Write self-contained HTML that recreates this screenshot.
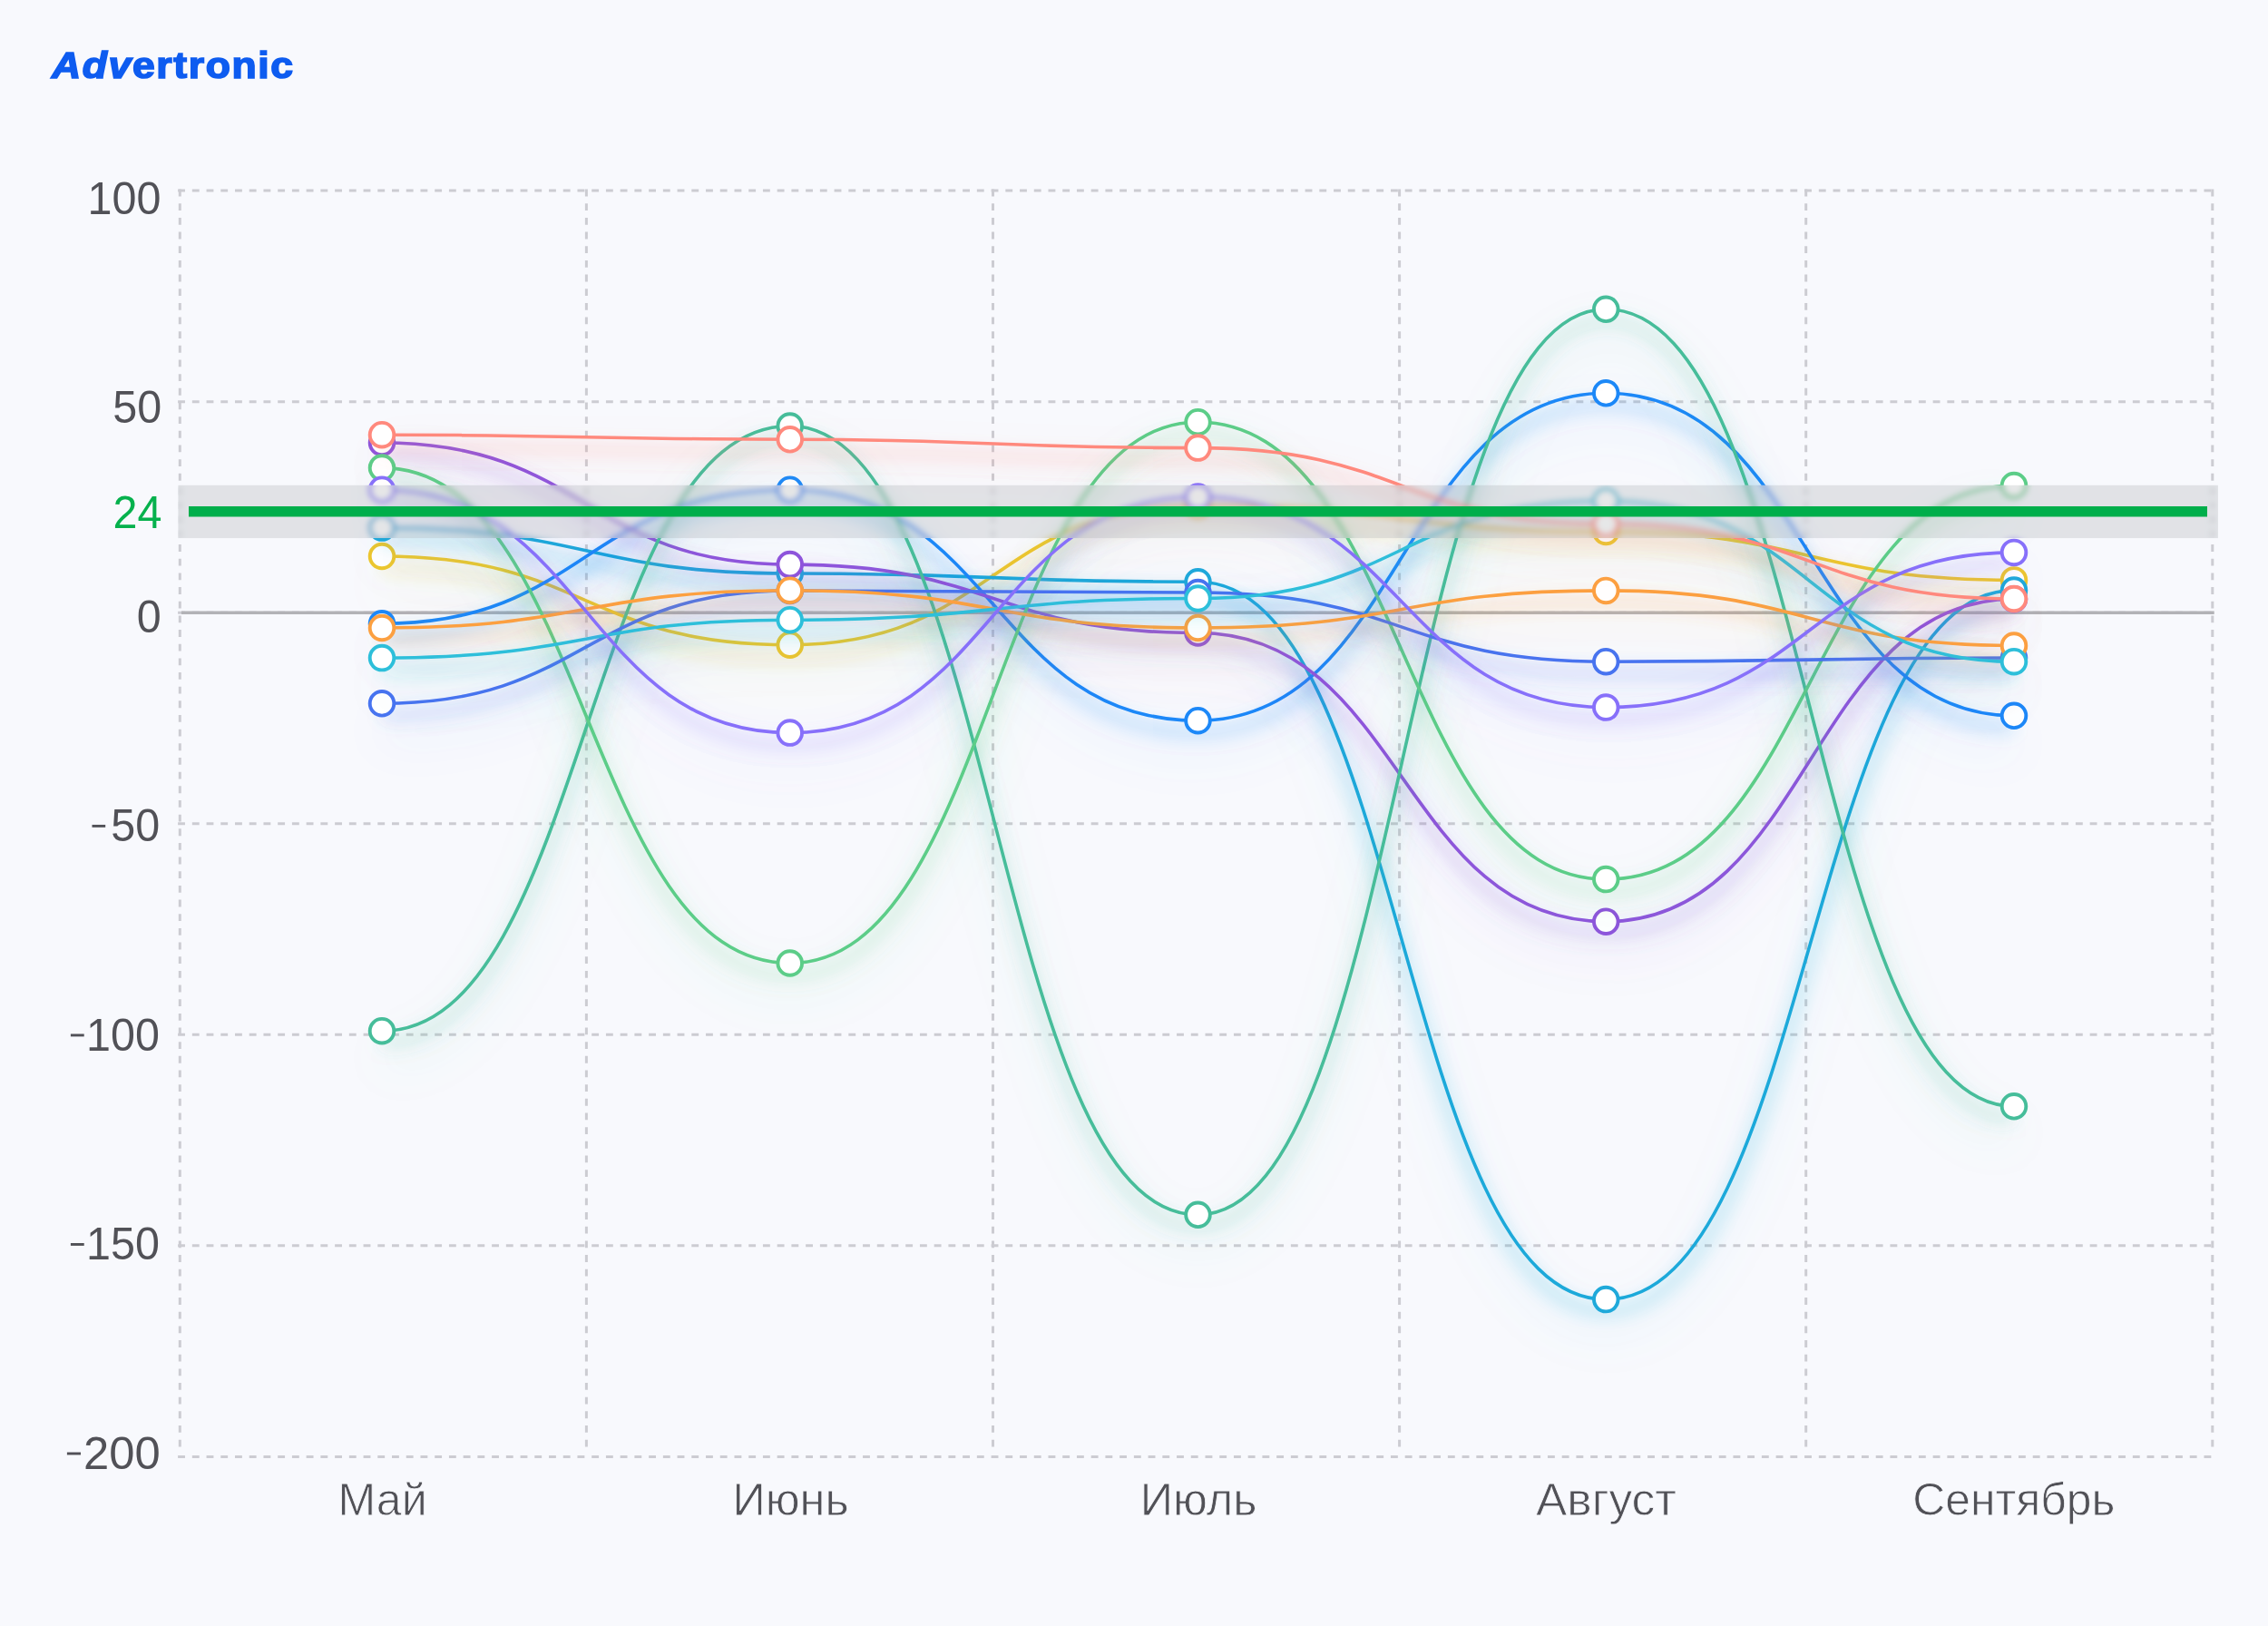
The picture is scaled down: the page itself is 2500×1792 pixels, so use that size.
<!DOCTYPE html>
<html><head><meta charset="utf-8"><title>Advertronic</title>
<style>
html,body{margin:0;padding:0;}
body{width:2500px;height:1792px;background:#F8F9FD;position:relative;overflow:hidden;font-family:"Liberation Sans",sans-serif;}
.logo{position:absolute;left:57px;top:51.6px;transform:scaleX(1.1);transform-origin:0 0;font-family:"Liberation Sans",sans-serif;font-weight:bold;font-size:40.5px;color:#0E5CF0;letter-spacing:1.45px;line-height:1;white-space:nowrap;-webkit-text-stroke:1.6px #0E5CF0;}
.logo i{font-style:italic;}
</style></head><body>
<div class="logo"><i>Adv</i>ertronic</div>
<svg width="2500" height="1792" viewBox="0 0 2500 1792" style="position:absolute;left:0;top:0"><defs><filter id="shA" filterUnits="userSpaceOnUse" x="0" y="0" width="2500" height="1792"><feGaussianBlur in="SourceAlpha" stdDeviation="10"/><feOffset dx="0" dy="13" result="b"/><feFlood flood-color="#FF897D" flood-opacity="0.75"/><feComposite in2="b" operator="in" result="s1"/><feGaussianBlur in="SourceAlpha" stdDeviation="26"/><feOffset dx="0" dy="30" result="b2"/><feFlood flood-color="#FF897D" flood-opacity="0.35"/><feComposite in2="b2" operator="in" result="s2"/><feMerge><feMergeNode in="s2"/><feMergeNode in="s1"/><feMergeNode in="SourceGraphic"/></feMerge></filter><filter id="shB" filterUnits="userSpaceOnUse" x="0" y="0" width="2500" height="1792"><feGaussianBlur in="SourceAlpha" stdDeviation="10"/><feOffset dx="0" dy="13" result="b"/><feFlood flood-color="#8E54DB" flood-opacity="0.75"/><feComposite in2="b" operator="in" result="s1"/><feGaussianBlur in="SourceAlpha" stdDeviation="26"/><feOffset dx="0" dy="30" result="b2"/><feFlood flood-color="#8E54DB" flood-opacity="0.35"/><feComposite in2="b2" operator="in" result="s2"/><feMerge><feMergeNode in="s2"/><feMergeNode in="s1"/><feMergeNode in="SourceGraphic"/></feMerge></filter><filter id="shC" filterUnits="userSpaceOnUse" x="0" y="0" width="2500" height="1792"><feGaussianBlur in="SourceAlpha" stdDeviation="10"/><feOffset dx="0" dy="13" result="b"/><feFlood flood-color="#5CCD88" flood-opacity="0.75"/><feComposite in2="b" operator="in" result="s1"/><feGaussianBlur in="SourceAlpha" stdDeviation="26"/><feOffset dx="0" dy="30" result="b2"/><feFlood flood-color="#5CCD88" flood-opacity="0.35"/><feComposite in2="b2" operator="in" result="s2"/><feMerge><feMergeNode in="s2"/><feMergeNode in="s1"/><feMergeNode in="SourceGraphic"/></feMerge></filter><filter id="shD" filterUnits="userSpaceOnUse" x="0" y="0" width="2500" height="1792"><feGaussianBlur in="SourceAlpha" stdDeviation="10"/><feOffset dx="0" dy="13" result="b"/><feFlood flood-color="#8770FA" flood-opacity="0.75"/><feComposite in2="b" operator="in" result="s1"/><feGaussianBlur in="SourceAlpha" stdDeviation="26"/><feOffset dx="0" dy="30" result="b2"/><feFlood flood-color="#8770FA" flood-opacity="0.35"/><feComposite in2="b2" operator="in" result="s2"/><feMerge><feMergeNode in="s2"/><feMergeNode in="s1"/><feMergeNode in="SourceGraphic"/></feMerge></filter><filter id="shE" filterUnits="userSpaceOnUse" x="0" y="0" width="2500" height="1792"><feGaussianBlur in="SourceAlpha" stdDeviation="10"/><feOffset dx="0" dy="13" result="b"/><feFlood flood-color="#1FA9DA" flood-opacity="0.75"/><feComposite in2="b" operator="in" result="s1"/><feGaussianBlur in="SourceAlpha" stdDeviation="26"/><feOffset dx="0" dy="30" result="b2"/><feFlood flood-color="#1FA9DA" flood-opacity="0.35"/><feComposite in2="b2" operator="in" result="s2"/><feMerge><feMergeNode in="s2"/><feMergeNode in="s1"/><feMergeNode in="SourceGraphic"/></feMerge></filter><filter id="shF" filterUnits="userSpaceOnUse" x="0" y="0" width="2500" height="1792"><feGaussianBlur in="SourceAlpha" stdDeviation="10"/><feOffset dx="0" dy="13" result="b"/><feFlood flood-color="#EDC62E" flood-opacity="0.75"/><feComposite in2="b" operator="in" result="s1"/><feGaussianBlur in="SourceAlpha" stdDeviation="26"/><feOffset dx="0" dy="30" result="b2"/><feFlood flood-color="#EDC62E" flood-opacity="0.35"/><feComposite in2="b2" operator="in" result="s2"/><feMerge><feMergeNode in="s2"/><feMergeNode in="s1"/><feMergeNode in="SourceGraphic"/></feMerge></filter><filter id="shG" filterUnits="userSpaceOnUse" x="0" y="0" width="2500" height="1792"><feGaussianBlur in="SourceAlpha" stdDeviation="10"/><feOffset dx="0" dy="13" result="b"/><feFlood flood-color="#1C88F8" flood-opacity="0.75"/><feComposite in2="b" operator="in" result="s1"/><feGaussianBlur in="SourceAlpha" stdDeviation="26"/><feOffset dx="0" dy="30" result="b2"/><feFlood flood-color="#1C88F8" flood-opacity="0.35"/><feComposite in2="b2" operator="in" result="s2"/><feMerge><feMergeNode in="s2"/><feMergeNode in="s1"/><feMergeNode in="SourceGraphic"/></feMerge></filter><filter id="shH" filterUnits="userSpaceOnUse" x="0" y="0" width="2500" height="1792"><feGaussianBlur in="SourceAlpha" stdDeviation="10"/><feOffset dx="0" dy="13" result="b"/><feFlood flood-color="#FCA041" flood-opacity="0.75"/><feComposite in2="b" operator="in" result="s1"/><feGaussianBlur in="SourceAlpha" stdDeviation="26"/><feOffset dx="0" dy="30" result="b2"/><feFlood flood-color="#FCA041" flood-opacity="0.35"/><feComposite in2="b2" operator="in" result="s2"/><feMerge><feMergeNode in="s2"/><feMergeNode in="s1"/><feMergeNode in="SourceGraphic"/></feMerge></filter><filter id="shI" filterUnits="userSpaceOnUse" x="0" y="0" width="2500" height="1792"><feGaussianBlur in="SourceAlpha" stdDeviation="10"/><feOffset dx="0" dy="13" result="b"/><feFlood flood-color="#2DBFDA" flood-opacity="0.75"/><feComposite in2="b" operator="in" result="s1"/><feGaussianBlur in="SourceAlpha" stdDeviation="26"/><feOffset dx="0" dy="30" result="b2"/><feFlood flood-color="#2DBFDA" flood-opacity="0.35"/><feComposite in2="b2" operator="in" result="s2"/><feMerge><feMergeNode in="s2"/><feMergeNode in="s1"/><feMergeNode in="SourceGraphic"/></feMerge></filter><filter id="shJ" filterUnits="userSpaceOnUse" x="0" y="0" width="2500" height="1792"><feGaussianBlur in="SourceAlpha" stdDeviation="10"/><feOffset dx="0" dy="13" result="b"/><feFlood flood-color="#4773F0" flood-opacity="0.75"/><feComposite in2="b" operator="in" result="s1"/><feGaussianBlur in="SourceAlpha" stdDeviation="26"/><feOffset dx="0" dy="30" result="b2"/><feFlood flood-color="#4773F0" flood-opacity="0.35"/><feComposite in2="b2" operator="in" result="s2"/><feMerge><feMergeNode in="s2"/><feMergeNode in="s1"/><feMergeNode in="SourceGraphic"/></feMerge></filter><filter id="shK" filterUnits="userSpaceOnUse" x="0" y="0" width="2500" height="1792"><feGaussianBlur in="SourceAlpha" stdDeviation="10"/><feOffset dx="0" dy="13" result="b"/><feFlood flood-color="#46BD9A" flood-opacity="0.75"/><feComposite in2="b" operator="in" result="s1"/><feGaussianBlur in="SourceAlpha" stdDeviation="26"/><feOffset dx="0" dy="30" result="b2"/><feFlood flood-color="#46BD9A" flood-opacity="0.35"/><feComposite in2="b2" operator="in" result="s2"/><feMerge><feMergeNode in="s2"/><feMergeNode in="s1"/><feMergeNode in="SourceGraphic"/></feMerge></filter></defs><line x1="196.1" y1="210.10" x2="2440.3" y2="210.10" stroke="#CCCCD2" stroke-width="3.0" stroke-dasharray="7.864 7.864"/><line x1="196.1" y1="442.65" x2="2440.3" y2="442.65" stroke="#CCCCD2" stroke-width="3.0" stroke-dasharray="7.864 7.864"/><line x1="196.1" y1="675.20" x2="2440.3" y2="675.20" stroke="#CCCCD2" stroke-width="3.0" stroke-dasharray="7.864 7.864"/><line x1="196.1" y1="907.75" x2="2440.3" y2="907.75" stroke="#CCCCD2" stroke-width="3.0" stroke-dasharray="7.864 7.864"/><line x1="196.1" y1="1140.30" x2="2440.3" y2="1140.30" stroke="#CCCCD2" stroke-width="3.0" stroke-dasharray="7.864 7.864"/><line x1="196.1" y1="1372.85" x2="2440.3" y2="1372.85" stroke="#CCCCD2" stroke-width="3.0" stroke-dasharray="7.864 7.864"/><line x1="196.1" y1="1605.40" x2="2440.3" y2="1605.40" stroke="#CCCCD2" stroke-width="3.0" stroke-dasharray="7.864 7.864"/><line x1="198.30" y1="208.6" x2="198.30" y2="1598" stroke="#CCCCD2" stroke-width="3.0" stroke-dasharray="7.83 7.83"/><line x1="646.40" y1="208.6" x2="646.40" y2="1598" stroke="#CCCCD2" stroke-width="3.0" stroke-dasharray="7.83 7.83"/><line x1="1094.50" y1="208.6" x2="1094.50" y2="1598" stroke="#CCCCD2" stroke-width="3.0" stroke-dasharray="7.83 7.83"/><line x1="1542.60" y1="208.6" x2="1542.60" y2="1598" stroke="#CCCCD2" stroke-width="3.0" stroke-dasharray="7.83 7.83"/><line x1="1990.70" y1="208.6" x2="1990.70" y2="1598" stroke="#CCCCD2" stroke-width="3.0" stroke-dasharray="7.83 7.83"/><line x1="2438.80" y1="208.6" x2="2438.80" y2="1598" stroke="#CCCCD2" stroke-width="3.0" stroke-dasharray="7.83 7.83"/><line x1="200" y1="675.2" x2="2440.7" y2="675.2" stroke="#B2B2B6" stroke-width="3.4"/><text transform="translate(177.5 235.80) scale(0.97 1)" text-anchor="end" font-family="Liberation Sans" font-size="50" fill="#515157">100</text><text transform="translate(178.3 466.33) scale(0.97 1)" text-anchor="end" font-family="Liberation Sans" font-size="50" fill="#515157">50</text><text transform="translate(177.6 696.86) scale(0.97 1)" text-anchor="end" font-family="Liberation Sans" font-size="50" fill="#515157">0</text><text transform="translate(176.3 927.39) scale(0.97 1)" text-anchor="end" font-family="Liberation Sans" font-size="50" fill="#515157">50</text><rect x="101.5" y="908.94" width="14.7" height="2.9" fill="#515157"/><text transform="translate(176.0 1157.92) scale(0.97 1)" text-anchor="end" font-family="Liberation Sans" font-size="50" fill="#515157">100</text><rect x="77.9" y="1139.47" width="14.8" height="2.9" fill="#515157"/><text transform="translate(176.0 1388.45) scale(0.97 1)" text-anchor="end" font-family="Liberation Sans" font-size="50" fill="#515157">150</text><rect x="77.9" y="1370.00" width="14.8" height="2.9" fill="#515157"/><text transform="translate(176.6 1618.98) scale(1.015 1)" text-anchor="end" font-family="Liberation Sans" font-size="50" fill="#515157">200</text><rect x="73.9" y="1600.53" width="15.1" height="2.9" fill="#515157"/><text transform="translate(421.55 1670.2) scale(1.0025 1)" text-anchor="middle" font-family="Liberation Sans" font-size="50" fill="#515157" stroke="#F8F9FD" stroke-width="0.8">Май</text><text transform="translate(871.60 1670.2) scale(1.0094 1)" text-anchor="middle" font-family="Liberation Sans" font-size="50" fill="#515157" stroke="#F8F9FD" stroke-width="0.8">Июнь</text><text transform="translate(1321.05 1670.2) scale(1.0104 1)" text-anchor="middle" font-family="Liberation Sans" font-size="50" fill="#515157" stroke="#F8F9FD" stroke-width="0.8">Июль</text><text transform="translate(1770.45 1670.2) scale(1.03 1)" text-anchor="middle" font-family="Liberation Sans" font-size="50" fill="#515157" stroke="#F8F9FD" stroke-width="0.8">Август</text><text transform="translate(2219.90 1670.2) scale(0.9967 1)" text-anchor="middle" font-family="Liberation Sans" font-size="50" fill="#515157" stroke="#F8F9FD" stroke-width="0.8">Сентябрь</text><g><path d="M421.00 613.00 C645.88 613.00 645.88 710.70 870.75 710.70 C1095.62 710.70 1095.62 557.00 1320.50 557.00 C1545.38 557.00 1545.38 586.00 1770.25 586.00 C1995.12 586.00 1995.12 639.40 2220.00 639.40" fill="none" stroke="#EDC62E" stroke-width="3.6" stroke-linecap="butt" filter="url(#shF)"/><circle cx="421.00" cy="613.00" r="13.3" fill="#fff" stroke="#EDC62E" stroke-width="3.9"/><circle cx="870.75" cy="710.70" r="13.3" fill="#fff" stroke="#EDC62E" stroke-width="3.9"/><circle cx="1320.50" cy="557.00" r="13.3" fill="#fff" stroke="#EDC62E" stroke-width="3.9"/><circle cx="1770.25" cy="586.00" r="13.3" fill="#fff" stroke="#EDC62E" stroke-width="3.9"/><circle cx="2220.00" cy="639.40" r="13.3" fill="#fff" stroke="#EDC62E" stroke-width="3.9"/></g><g><path d="M421.00 581.60 C645.88 581.60 645.88 632.00 870.75 632.00 C1095.62 632.00 1095.62 641.30 1320.50 641.30 C1545.38 641.30 1545.38 1432.10 1770.25 1432.10 C1995.12 1432.10 1995.12 650.60 2220.00 650.60" fill="none" stroke="#1FA9DA" stroke-width="3.6" stroke-linecap="butt" filter="url(#shE)"/><circle cx="421.00" cy="581.60" r="13.3" fill="#fff" stroke="#1FA9DA" stroke-width="3.9"/><circle cx="870.75" cy="632.00" r="13.3" fill="#fff" stroke="#1FA9DA" stroke-width="3.9"/><circle cx="1320.50" cy="641.30" r="13.3" fill="#fff" stroke="#1FA9DA" stroke-width="3.9"/><circle cx="1770.25" cy="1432.10" r="13.3" fill="#fff" stroke="#1FA9DA" stroke-width="3.9"/><circle cx="2220.00" cy="650.60" r="13.3" fill="#fff" stroke="#1FA9DA" stroke-width="3.9"/></g><g><path d="M421.00 687.30 C645.88 687.30 645.88 539.70 870.75 539.70 C1095.62 539.70 1095.62 794.20 1320.50 794.20 C1545.38 794.20 1545.38 433.30 1770.25 433.30 C1995.12 433.30 1995.12 788.80 2220.00 788.80" fill="none" stroke="#1C88F8" stroke-width="3.6" stroke-linecap="butt" filter="url(#shG)"/><circle cx="421.00" cy="687.30" r="13.3" fill="#fff" stroke="#1C88F8" stroke-width="3.9"/><circle cx="870.75" cy="539.70" r="13.3" fill="#fff" stroke="#1C88F8" stroke-width="3.9"/><circle cx="1320.50" cy="794.20" r="13.3" fill="#fff" stroke="#1C88F8" stroke-width="3.9"/><circle cx="1770.25" cy="433.30" r="13.3" fill="#fff" stroke="#1C88F8" stroke-width="3.9"/><circle cx="2220.00" cy="788.80" r="13.3" fill="#fff" stroke="#1C88F8" stroke-width="3.9"/></g><g><path d="M421.00 488.00 C645.88 488.00 645.88 622.10 870.75 622.10 C1095.62 622.10 1095.62 697.50 1320.50 697.50 C1545.38 697.50 1545.38 1015.70 1770.25 1015.70 C1995.12 1015.70 1995.12 660.30 2220.00 660.30" fill="none" stroke="#8E54DB" stroke-width="3.6" stroke-linecap="butt" filter="url(#shB)"/><circle cx="421.00" cy="488.00" r="13.3" fill="#fff" stroke="#8E54DB" stroke-width="3.9"/><circle cx="870.75" cy="622.10" r="13.3" fill="#fff" stroke="#8E54DB" stroke-width="3.9"/><circle cx="1320.50" cy="697.50" r="13.3" fill="#fff" stroke="#8E54DB" stroke-width="3.9"/><circle cx="1770.25" cy="1015.70" r="13.3" fill="#fff" stroke="#8E54DB" stroke-width="3.9"/><circle cx="2220.00" cy="660.30" r="13.3" fill="#fff" stroke="#8E54DB" stroke-width="3.9"/></g><g><path d="M421.00 1136.20 C645.88 1136.20 645.88 469.50 870.75 469.50 C1095.62 469.50 1095.62 1338.80 1320.50 1338.80 C1545.38 1338.80 1545.38 340.80 1770.25 340.80 C1995.12 340.80 1995.12 1219.30 2220.00 1219.30" fill="none" stroke="#46BD9A" stroke-width="3.6" stroke-linecap="butt" filter="url(#shK)"/><circle cx="421.00" cy="1136.20" r="13.3" fill="#fff" stroke="#46BD9A" stroke-width="3.9"/><circle cx="870.75" cy="469.50" r="13.3" fill="#fff" stroke="#46BD9A" stroke-width="3.9"/><circle cx="1320.50" cy="1338.80" r="13.3" fill="#fff" stroke="#46BD9A" stroke-width="3.9"/><circle cx="1770.25" cy="340.80" r="13.3" fill="#fff" stroke="#46BD9A" stroke-width="3.9"/><circle cx="2220.00" cy="1219.30" r="13.3" fill="#fff" stroke="#46BD9A" stroke-width="3.9"/></g><g><path d="M421.00 515.60 C645.88 515.60 645.88 1061.50 870.75 1061.50 C1095.62 1061.50 1095.62 465.20 1320.50 465.20 C1545.38 465.20 1545.38 969.10 1770.25 969.10 C1995.12 969.10 1995.12 535.00 2220.00 535.00" fill="none" stroke="#5CCD88" stroke-width="3.6" stroke-linecap="butt" filter="url(#shC)"/><circle cx="421.00" cy="515.60" r="13.3" fill="#fff" stroke="#5CCD88" stroke-width="3.9"/><circle cx="870.75" cy="1061.50" r="13.3" fill="#fff" stroke="#5CCD88" stroke-width="3.9"/><circle cx="1320.50" cy="465.20" r="13.3" fill="#fff" stroke="#5CCD88" stroke-width="3.9"/><circle cx="1770.25" cy="969.10" r="13.3" fill="#fff" stroke="#5CCD88" stroke-width="3.9"/><circle cx="2220.00" cy="535.00" r="13.3" fill="#fff" stroke="#5CCD88" stroke-width="3.9"/></g><g><path d="M421.00 775.30 C645.88 775.30 645.88 651.00 870.75 651.00 C1095.62 651.00 1095.62 653.00 1320.50 653.00 C1545.38 653.00 1545.38 729.20 1770.25 729.20 C1995.12 729.20 1995.12 725.00 2220.00 725.00" fill="none" stroke="#4773F0" stroke-width="3.6" stroke-linecap="butt" filter="url(#shJ)"/><circle cx="421.00" cy="775.30" r="13.3" fill="#fff" stroke="#4773F0" stroke-width="3.9"/><circle cx="870.75" cy="651.00" r="13.3" fill="#fff" stroke="#4773F0" stroke-width="3.9"/><circle cx="1320.50" cy="653.00" r="13.3" fill="#fff" stroke="#4773F0" stroke-width="3.9"/><circle cx="1770.25" cy="729.20" r="13.3" fill="#fff" stroke="#4773F0" stroke-width="3.9"/><circle cx="2220.00" cy="725.00" r="13.3" fill="#fff" stroke="#4773F0" stroke-width="3.9"/></g><g><path d="M421.00 692.00 C645.88 692.00 645.88 650.70 870.75 650.70 C1095.62 650.70 1095.62 692.00 1320.50 692.00 C1545.38 692.00 1545.38 650.90 1770.25 650.90 C1995.12 650.90 1995.12 711.50 2220.00 711.50" fill="none" stroke="#FCA041" stroke-width="3.6" stroke-linecap="butt" filter="url(#shH)"/><circle cx="421.00" cy="692.00" r="13.3" fill="#fff" stroke="#FCA041" stroke-width="3.9"/><circle cx="870.75" cy="650.70" r="13.3" fill="#fff" stroke="#FCA041" stroke-width="3.9"/><circle cx="1320.50" cy="692.00" r="13.3" fill="#fff" stroke="#FCA041" stroke-width="3.9"/><circle cx="1770.25" cy="650.90" r="13.3" fill="#fff" stroke="#FCA041" stroke-width="3.9"/><circle cx="2220.00" cy="711.50" r="13.3" fill="#fff" stroke="#FCA041" stroke-width="3.9"/></g><g><path d="M421.00 725.10 C645.88 725.10 645.88 683.20 870.75 683.20 C1095.62 683.20 1095.62 659.50 1320.50 659.50 C1545.38 659.50 1545.38 552.00 1770.25 552.00 C1995.12 552.00 1995.12 729.20 2220.00 729.20" fill="none" stroke="#2DBFDA" stroke-width="3.6" stroke-linecap="butt" filter="url(#shI)"/><circle cx="421.00" cy="725.10" r="13.3" fill="#fff" stroke="#2DBFDA" stroke-width="3.9"/><circle cx="870.75" cy="683.20" r="13.3" fill="#fff" stroke="#2DBFDA" stroke-width="3.9"/><circle cx="1320.50" cy="659.50" r="13.3" fill="#fff" stroke="#2DBFDA" stroke-width="3.9"/><circle cx="1770.25" cy="552.00" r="13.3" fill="#fff" stroke="#2DBFDA" stroke-width="3.9"/><circle cx="2220.00" cy="729.20" r="13.3" fill="#fff" stroke="#2DBFDA" stroke-width="3.9"/></g><g><path d="M421.00 539.70 C645.88 539.70 645.88 807.60 870.75 807.60 C1095.62 807.60 1095.62 547.50 1320.50 547.50 C1545.38 547.50 1545.38 779.60 1770.25 779.60 C1995.12 779.60 1995.12 608.90 2220.00 608.90" fill="none" stroke="#8770FA" stroke-width="3.6" stroke-linecap="butt" filter="url(#shD)"/><circle cx="421.00" cy="539.70" r="13.3" fill="#fff" stroke="#8770FA" stroke-width="3.9"/><circle cx="870.75" cy="807.60" r="13.3" fill="#fff" stroke="#8770FA" stroke-width="3.9"/><circle cx="1320.50" cy="547.50" r="13.3" fill="#fff" stroke="#8770FA" stroke-width="3.9"/><circle cx="1770.25" cy="779.60" r="13.3" fill="#fff" stroke="#8770FA" stroke-width="3.9"/><circle cx="2220.00" cy="608.90" r="13.3" fill="#fff" stroke="#8770FA" stroke-width="3.9"/></g><g><path d="M421.00 479.20 C645.88 479.20 645.88 484.30 870.75 484.30 C1095.62 484.30 1095.62 493.60 1320.50 493.60 C1545.38 493.60 1545.38 577.30 1770.25 577.30 C1995.12 577.30 1995.12 660.00 2220.00 660.00" fill="none" stroke="#FF897D" stroke-width="3.6" stroke-linecap="butt" filter="url(#shA)"/><circle cx="421.00" cy="479.20" r="13.3" fill="#fff" stroke="#FF897D" stroke-width="3.9"/><circle cx="870.75" cy="484.30" r="13.3" fill="#fff" stroke="#FF897D" stroke-width="3.9"/><circle cx="1320.50" cy="493.60" r="13.3" fill="#fff" stroke="#FF897D" stroke-width="3.9"/><circle cx="1770.25" cy="577.30" r="13.3" fill="#fff" stroke="#FF897D" stroke-width="3.9"/><circle cx="2220.00" cy="660.00" r="13.3" fill="#fff" stroke="#FF897D" stroke-width="3.9"/></g><defs><clipPath id="bandclip"><rect x="196.4" y="534.8" width="2248.5" height="58.3"/></clipPath><filter id="bandblur" filterUnits="userSpaceOnUse" x="150" y="480" width="2350" height="170"><feGaussianBlur stdDeviation="3"/></filter></defs><g clip-path="url(#bandclip)"><g filter="url(#bandblur)"><rect x="150" y="480" width="2350" height="170" fill="#F8F9FD"/><line x1="196.1" y1="210.10" x2="2440.3" y2="210.10" stroke="#CCCCD2" stroke-width="3.0" stroke-dasharray="7.864 7.864"/><line x1="196.1" y1="442.65" x2="2440.3" y2="442.65" stroke="#CCCCD2" stroke-width="3.0" stroke-dasharray="7.864 7.864"/><line x1="196.1" y1="675.20" x2="2440.3" y2="675.20" stroke="#CCCCD2" stroke-width="3.0" stroke-dasharray="7.864 7.864"/><line x1="196.1" y1="907.75" x2="2440.3" y2="907.75" stroke="#CCCCD2" stroke-width="3.0" stroke-dasharray="7.864 7.864"/><line x1="196.1" y1="1140.30" x2="2440.3" y2="1140.30" stroke="#CCCCD2" stroke-width="3.0" stroke-dasharray="7.864 7.864"/><line x1="196.1" y1="1372.85" x2="2440.3" y2="1372.85" stroke="#CCCCD2" stroke-width="3.0" stroke-dasharray="7.864 7.864"/><line x1="196.1" y1="1605.40" x2="2440.3" y2="1605.40" stroke="#CCCCD2" stroke-width="3.0" stroke-dasharray="7.864 7.864"/><line x1="198.30" y1="208.6" x2="198.30" y2="1598" stroke="#CCCCD2" stroke-width="3.0" stroke-dasharray="7.83 7.83"/><line x1="646.40" y1="208.6" x2="646.40" y2="1598" stroke="#CCCCD2" stroke-width="3.0" stroke-dasharray="7.83 7.83"/><line x1="1094.50" y1="208.6" x2="1094.50" y2="1598" stroke="#CCCCD2" stroke-width="3.0" stroke-dasharray="7.83 7.83"/><line x1="1542.60" y1="208.6" x2="1542.60" y2="1598" stroke="#CCCCD2" stroke-width="3.0" stroke-dasharray="7.83 7.83"/><line x1="1990.70" y1="208.6" x2="1990.70" y2="1598" stroke="#CCCCD2" stroke-width="3.0" stroke-dasharray="7.83 7.83"/><line x1="2438.80" y1="208.6" x2="2438.80" y2="1598" stroke="#CCCCD2" stroke-width="3.0" stroke-dasharray="7.83 7.83"/><line x1="200" y1="675.2" x2="2440.7" y2="675.2" stroke="#B2B2B6" stroke-width="3.4"/><g><path d="M421.00 613.00 C645.88 613.00 645.88 710.70 870.75 710.70 C1095.62 710.70 1095.62 557.00 1320.50 557.00 C1545.38 557.00 1545.38 586.00 1770.25 586.00 C1995.12 586.00 1995.12 639.40 2220.00 639.40" fill="none" stroke="#EDC62E" stroke-width="3.6" stroke-linecap="butt" filter="url(#shF)"/><circle cx="421.00" cy="613.00" r="13.3" fill="#fff" stroke="#EDC62E" stroke-width="3.9"/><circle cx="870.75" cy="710.70" r="13.3" fill="#fff" stroke="#EDC62E" stroke-width="3.9"/><circle cx="1320.50" cy="557.00" r="13.3" fill="#fff" stroke="#EDC62E" stroke-width="3.9"/><circle cx="1770.25" cy="586.00" r="13.3" fill="#fff" stroke="#EDC62E" stroke-width="3.9"/><circle cx="2220.00" cy="639.40" r="13.3" fill="#fff" stroke="#EDC62E" stroke-width="3.9"/></g><g><path d="M421.00 581.60 C645.88 581.60 645.88 632.00 870.75 632.00 C1095.62 632.00 1095.62 641.30 1320.50 641.30 C1545.38 641.30 1545.38 1432.10 1770.25 1432.10 C1995.12 1432.10 1995.12 650.60 2220.00 650.60" fill="none" stroke="#1FA9DA" stroke-width="3.6" stroke-linecap="butt" filter="url(#shE)"/><circle cx="421.00" cy="581.60" r="13.3" fill="#fff" stroke="#1FA9DA" stroke-width="3.9"/><circle cx="870.75" cy="632.00" r="13.3" fill="#fff" stroke="#1FA9DA" stroke-width="3.9"/><circle cx="1320.50" cy="641.30" r="13.3" fill="#fff" stroke="#1FA9DA" stroke-width="3.9"/><circle cx="1770.25" cy="1432.10" r="13.3" fill="#fff" stroke="#1FA9DA" stroke-width="3.9"/><circle cx="2220.00" cy="650.60" r="13.3" fill="#fff" stroke="#1FA9DA" stroke-width="3.9"/></g><g><path d="M421.00 687.30 C645.88 687.30 645.88 539.70 870.75 539.70 C1095.62 539.70 1095.62 794.20 1320.50 794.20 C1545.38 794.20 1545.38 433.30 1770.25 433.30 C1995.12 433.30 1995.12 788.80 2220.00 788.80" fill="none" stroke="#1C88F8" stroke-width="3.6" stroke-linecap="butt" filter="url(#shG)"/><circle cx="421.00" cy="687.30" r="13.3" fill="#fff" stroke="#1C88F8" stroke-width="3.9"/><circle cx="870.75" cy="539.70" r="13.3" fill="#fff" stroke="#1C88F8" stroke-width="3.9"/><circle cx="1320.50" cy="794.20" r="13.3" fill="#fff" stroke="#1C88F8" stroke-width="3.9"/><circle cx="1770.25" cy="433.30" r="13.3" fill="#fff" stroke="#1C88F8" stroke-width="3.9"/><circle cx="2220.00" cy="788.80" r="13.3" fill="#fff" stroke="#1C88F8" stroke-width="3.9"/></g><g><path d="M421.00 488.00 C645.88 488.00 645.88 622.10 870.75 622.10 C1095.62 622.10 1095.62 697.50 1320.50 697.50 C1545.38 697.50 1545.38 1015.70 1770.25 1015.70 C1995.12 1015.70 1995.12 660.30 2220.00 660.30" fill="none" stroke="#8E54DB" stroke-width="3.6" stroke-linecap="butt" filter="url(#shB)"/><circle cx="421.00" cy="488.00" r="13.3" fill="#fff" stroke="#8E54DB" stroke-width="3.9"/><circle cx="870.75" cy="622.10" r="13.3" fill="#fff" stroke="#8E54DB" stroke-width="3.9"/><circle cx="1320.50" cy="697.50" r="13.3" fill="#fff" stroke="#8E54DB" stroke-width="3.9"/><circle cx="1770.25" cy="1015.70" r="13.3" fill="#fff" stroke="#8E54DB" stroke-width="3.9"/><circle cx="2220.00" cy="660.30" r="13.3" fill="#fff" stroke="#8E54DB" stroke-width="3.9"/></g><g><path d="M421.00 1136.20 C645.88 1136.20 645.88 469.50 870.75 469.50 C1095.62 469.50 1095.62 1338.80 1320.50 1338.80 C1545.38 1338.80 1545.38 340.80 1770.25 340.80 C1995.12 340.80 1995.12 1219.30 2220.00 1219.30" fill="none" stroke="#46BD9A" stroke-width="3.6" stroke-linecap="butt" filter="url(#shK)"/><circle cx="421.00" cy="1136.20" r="13.3" fill="#fff" stroke="#46BD9A" stroke-width="3.9"/><circle cx="870.75" cy="469.50" r="13.3" fill="#fff" stroke="#46BD9A" stroke-width="3.9"/><circle cx="1320.50" cy="1338.80" r="13.3" fill="#fff" stroke="#46BD9A" stroke-width="3.9"/><circle cx="1770.25" cy="340.80" r="13.3" fill="#fff" stroke="#46BD9A" stroke-width="3.9"/><circle cx="2220.00" cy="1219.30" r="13.3" fill="#fff" stroke="#46BD9A" stroke-width="3.9"/></g><g><path d="M421.00 515.60 C645.88 515.60 645.88 1061.50 870.75 1061.50 C1095.62 1061.50 1095.62 465.20 1320.50 465.20 C1545.38 465.20 1545.38 969.10 1770.25 969.10 C1995.12 969.10 1995.12 535.00 2220.00 535.00" fill="none" stroke="#5CCD88" stroke-width="3.6" stroke-linecap="butt" filter="url(#shC)"/><circle cx="421.00" cy="515.60" r="13.3" fill="#fff" stroke="#5CCD88" stroke-width="3.9"/><circle cx="870.75" cy="1061.50" r="13.3" fill="#fff" stroke="#5CCD88" stroke-width="3.9"/><circle cx="1320.50" cy="465.20" r="13.3" fill="#fff" stroke="#5CCD88" stroke-width="3.9"/><circle cx="1770.25" cy="969.10" r="13.3" fill="#fff" stroke="#5CCD88" stroke-width="3.9"/><circle cx="2220.00" cy="535.00" r="13.3" fill="#fff" stroke="#5CCD88" stroke-width="3.9"/></g><g><path d="M421.00 775.30 C645.88 775.30 645.88 651.00 870.75 651.00 C1095.62 651.00 1095.62 653.00 1320.50 653.00 C1545.38 653.00 1545.38 729.20 1770.25 729.20 C1995.12 729.20 1995.12 725.00 2220.00 725.00" fill="none" stroke="#4773F0" stroke-width="3.6" stroke-linecap="butt" filter="url(#shJ)"/><circle cx="421.00" cy="775.30" r="13.3" fill="#fff" stroke="#4773F0" stroke-width="3.9"/><circle cx="870.75" cy="651.00" r="13.3" fill="#fff" stroke="#4773F0" stroke-width="3.9"/><circle cx="1320.50" cy="653.00" r="13.3" fill="#fff" stroke="#4773F0" stroke-width="3.9"/><circle cx="1770.25" cy="729.20" r="13.3" fill="#fff" stroke="#4773F0" stroke-width="3.9"/><circle cx="2220.00" cy="725.00" r="13.3" fill="#fff" stroke="#4773F0" stroke-width="3.9"/></g><g><path d="M421.00 692.00 C645.88 692.00 645.88 650.70 870.75 650.70 C1095.62 650.70 1095.62 692.00 1320.50 692.00 C1545.38 692.00 1545.38 650.90 1770.25 650.90 C1995.12 650.90 1995.12 711.50 2220.00 711.50" fill="none" stroke="#FCA041" stroke-width="3.6" stroke-linecap="butt" filter="url(#shH)"/><circle cx="421.00" cy="692.00" r="13.3" fill="#fff" stroke="#FCA041" stroke-width="3.9"/><circle cx="870.75" cy="650.70" r="13.3" fill="#fff" stroke="#FCA041" stroke-width="3.9"/><circle cx="1320.50" cy="692.00" r="13.3" fill="#fff" stroke="#FCA041" stroke-width="3.9"/><circle cx="1770.25" cy="650.90" r="13.3" fill="#fff" stroke="#FCA041" stroke-width="3.9"/><circle cx="2220.00" cy="711.50" r="13.3" fill="#fff" stroke="#FCA041" stroke-width="3.9"/></g><g><path d="M421.00 725.10 C645.88 725.10 645.88 683.20 870.75 683.20 C1095.62 683.20 1095.62 659.50 1320.50 659.50 C1545.38 659.50 1545.38 552.00 1770.25 552.00 C1995.12 552.00 1995.12 729.20 2220.00 729.20" fill="none" stroke="#2DBFDA" stroke-width="3.6" stroke-linecap="butt" filter="url(#shI)"/><circle cx="421.00" cy="725.10" r="13.3" fill="#fff" stroke="#2DBFDA" stroke-width="3.9"/><circle cx="870.75" cy="683.20" r="13.3" fill="#fff" stroke="#2DBFDA" stroke-width="3.9"/><circle cx="1320.50" cy="659.50" r="13.3" fill="#fff" stroke="#2DBFDA" stroke-width="3.9"/><circle cx="1770.25" cy="552.00" r="13.3" fill="#fff" stroke="#2DBFDA" stroke-width="3.9"/><circle cx="2220.00" cy="729.20" r="13.3" fill="#fff" stroke="#2DBFDA" stroke-width="3.9"/></g><g><path d="M421.00 539.70 C645.88 539.70 645.88 807.60 870.75 807.60 C1095.62 807.60 1095.62 547.50 1320.50 547.50 C1545.38 547.50 1545.38 779.60 1770.25 779.60 C1995.12 779.60 1995.12 608.90 2220.00 608.90" fill="none" stroke="#8770FA" stroke-width="3.6" stroke-linecap="butt" filter="url(#shD)"/><circle cx="421.00" cy="539.70" r="13.3" fill="#fff" stroke="#8770FA" stroke-width="3.9"/><circle cx="870.75" cy="807.60" r="13.3" fill="#fff" stroke="#8770FA" stroke-width="3.9"/><circle cx="1320.50" cy="547.50" r="13.3" fill="#fff" stroke="#8770FA" stroke-width="3.9"/><circle cx="1770.25" cy="779.60" r="13.3" fill="#fff" stroke="#8770FA" stroke-width="3.9"/><circle cx="2220.00" cy="608.90" r="13.3" fill="#fff" stroke="#8770FA" stroke-width="3.9"/></g><g><path d="M421.00 479.20 C645.88 479.20 645.88 484.30 870.75 484.30 C1095.62 484.30 1095.62 493.60 1320.50 493.60 C1545.38 493.60 1545.38 577.30 1770.25 577.30 C1995.12 577.30 1995.12 660.00 2220.00 660.00" fill="none" stroke="#FF897D" stroke-width="3.6" stroke-linecap="butt" filter="url(#shA)"/><circle cx="421.00" cy="479.20" r="13.3" fill="#fff" stroke="#FF897D" stroke-width="3.9"/><circle cx="870.75" cy="484.30" r="13.3" fill="#fff" stroke="#FF897D" stroke-width="3.9"/><circle cx="1320.50" cy="493.60" r="13.3" fill="#fff" stroke="#FF897D" stroke-width="3.9"/><circle cx="1770.25" cy="577.30" r="13.3" fill="#fff" stroke="#FF897D" stroke-width="3.9"/><circle cx="2220.00" cy="660.00" r="13.3" fill="#fff" stroke="#FF897D" stroke-width="3.9"/></g></g></g><rect x="196.4" y="534.8" width="2248.5" height="58.3" fill="rgb(160,161,166)" fill-opacity="0.26"/></svg>
<svg width="2500" height="1792" viewBox="0 0 2500 1792" style="position:absolute;left:0;top:0"><line x1="208" y1="563.8" x2="2433" y2="563.8" stroke="#00AE4B" stroke-width="11.6"/><text transform="translate(178.4 581.6) scale(0.97 1)" text-anchor="end" font-family="Liberation Sans" font-size="50" fill="#06B14D">24</text></svg>
</body></html>
